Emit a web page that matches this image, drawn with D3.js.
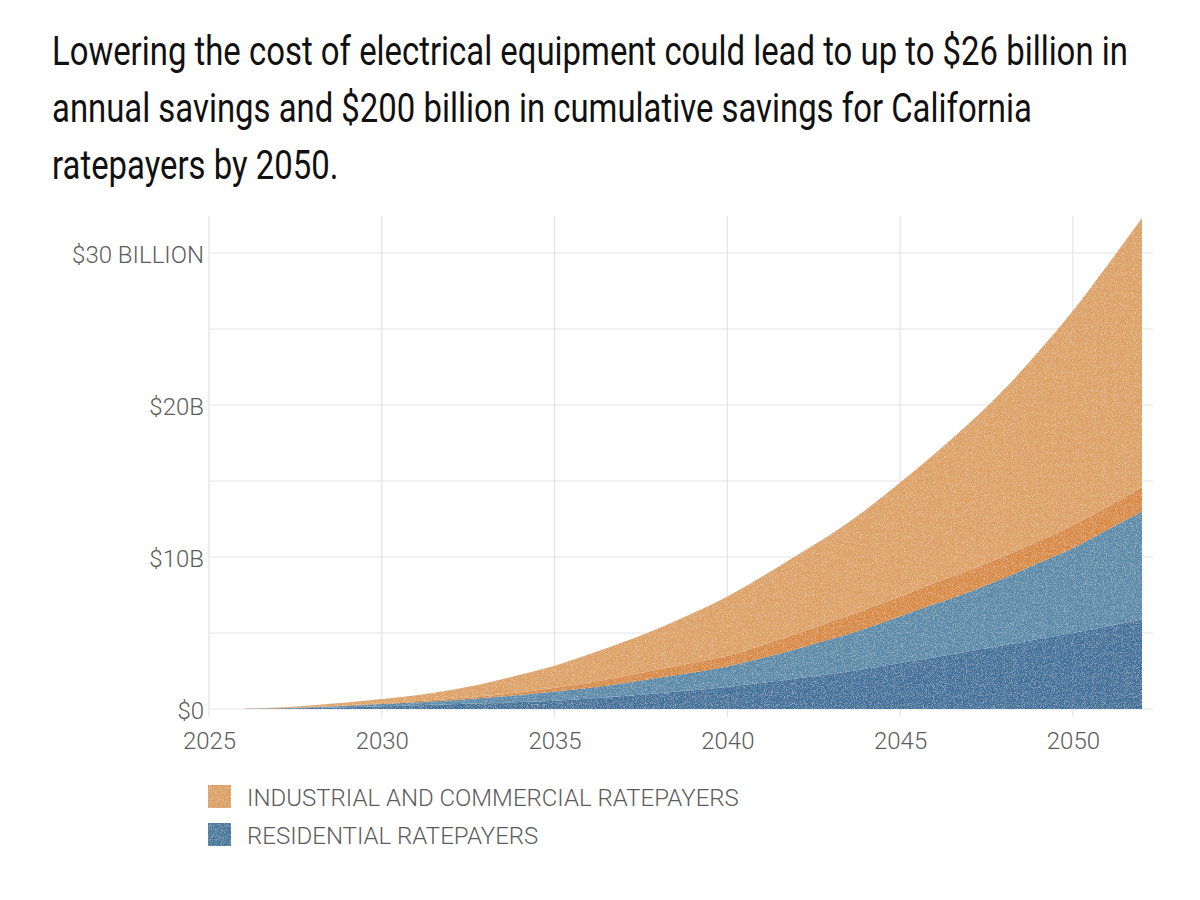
<!DOCTYPE html>
<html>
<head>
<meta charset="utf-8">
<script src="https://cdn.jsdelivr.net/npm/d3@7"></script>
<style>
  body { margin: 0; background: #fff; }
  svg { display: block; }
</style>
</head>
<body>
<div id="chart"></div>
<script>

// years on the x axis
var years = [2026, 2027, 2028, 2029, 2030, 2031, 2032, 2033, 2034, 2035, 2036, 2037, 2038, 2039,
             2040, 2041, 2042, 2043, 2044, 2045, 2046, 2047, 2048, 2049, 2050, 2051, 2052];

// annual savings, $ billion, one array per stacked layer (bottom to top)
var residentialLow  = [0, 0.03, 0.07, 0.12, 0.18, 0.24, 0.31, 0.38, 0.46, 0.55, 0.69, 0.85, 1.04, 1.24,
                       1.45, 1.72, 2.0, 2.3, 2.65, 3.05, 3.4, 3.8, 4.2, 4.6, 5.0, 5.45, 5.9];
var residentialHigh = [0, 0.02, 0.05, 0.10, 0.15, 0.21, 0.27, 0.36, 0.47, 0.60, 0.71, 0.85, 1.01, 1.16,
                       1.35, 1.63, 1.95, 2.3, 2.65, 3.05, 3.5, 3.9, 4.4, 5.0, 5.6, 6.35, 7.1];
var industrialLow   = [0, 0.01, 0.02, 0.03, 0.05, 0.07, 0.10, 0.13, 0.17, 0.25, 0.35, 0.45, 0.55, 0.65,
                       0.70, 0.85, 1.0, 1.15, 1.25, 1.3, 1.4, 1.45, 1.45, 1.45, 1.5, 1.5, 1.6];
var industrialHigh  = [0, 0.04, 0.11, 0.17, 0.27, 0.38, 0.57, 0.83, 1.15, 1.45, 1.85, 2.25, 2.7, 3.25,
                       3.9, 4.5, 5.15, 5.75, 6.55, 7.5, 8.5, 9.65, 10.95, 12.45, 14.1, 15.9, 17.7];

var layerKeys = ["residentialLow", "residentialHigh", "industrialLow", "industrialHigh"];
var layerColors = ["#41719a", "#5a8aa9", "#d88a40", "#dda263"];

var yTicks = [0, 10, 20, 30];
var yGrid = [0, 5, 10, 15, 20, 25, 30];
var xTicks = [2025, 2030, 2035, 2040, 2045, 2050];

var titleLines = [
  "Lowering the cost of electrical equipment could lead to up to $26 billion in",
  "annual savings and $200 billion in cumulative savings for California",
  "ratepayers by 2050."
];

var legendItems = [
  { label: "INDUSTRIAL AND COMMERCIAL RATEPAYERS", color: "#dca064" },
  { label: "RESIDENTIAL RATEPAYERS", color: "#45779b" }
];

var width = 1200, height = 900;
var svg = d3.select("#chart").append("svg")
  .attr("width", width)
  .attr("height", height);

// grain texture like the printed original
var defs = svg.append("defs");
var grain = defs.append("filter").attr("id", "grain")
  .attr("x", 0).attr("y", 0).attr("width", "100%").attr("height", "100%");
grain.append("feTurbulence")
  .attr("type", "fractalNoise").attr("baseFrequency", 1.1)
  .attr("numOctaves", 2).attr("seed", 4).attr("result", "noise");
grain.append("feColorMatrix").attr("in", "noise").attr("type", "matrix")
  .attr("values", "0 0 0 0 1  0 0 0 0 1  0 0 0 0 1  0.9 0 0 0 -0.42")
  .attr("result", "speck");
grain.append("feComposite").attr("in", "speck").attr("in2", "SourceGraphic")
  .attr("operator", "in").attr("result", "clipped");
var merge = grain.append("feMerge");
merge.append("feMergeNode").attr("in", "SourceGraphic");
merge.append("feMergeNode").attr("in", "clipped");

// title: condensed look, squeeze Roboto so line 1 spans the same width as the original
var title = svg.append("g");
var titleText = title.selectAll("text")
  .data(titleLines)
  .join("text")
  .attr("x", 0)
  .attr("y", 0)
  .style("font-family", "Roboto, sans-serif")
  .style("font-size", "40px")
  .style("fill", "#111")
  .text(function(d) { return d; });

var squeeze = 1076 / titleText.node().getComputedTextLength();
titleText.attr("transform", function(d, i) {
  return "translate(52," + (65 + i * 57) + ") scale(" + squeeze + ",1)";
});

var x = d3.scaleLinear().domain([2025, 2052]).range([209, 1142]);
var y = d3.scaleLinear().domain([0, 30]).range([709, 253]);

var axisFont = "Roboto, 'Open Sans', sans-serif";
var grid = svg.append("g");

grid.selectAll("line.h")
  .data(yGrid)
  .join("line")
  .attr("class", "h")
  .attr("x1", x(2025)).attr("x2", 1153)
  .attr("y1", function(d) { return y(d); })
  .attr("y2", function(d) { return y(d); })
  .style("stroke", "#e3e3e6").style("stroke-width", 1.2);

grid.selectAll("line.v")
  .data(xTicks)
  .join("line")
  .attr("class", "v")
  .attr("y1", 216).attr("y2", 717)
  .attr("x1", function(d) { return x(d); })
  .attr("x2", function(d) { return x(d); })
  .style("stroke", "#e3e3e6").style("stroke-width", 1.2);

// stacked areas
var table = years.map(function(yr, i) {
  return {
    year: yr,
    residentialLow: residentialLow[i],
    residentialHigh: residentialHigh[i],
    industrialLow: industrialLow[i],
    industrialHigh: industrialHigh[i]
  };
});

var series = d3.stack().keys(layerKeys)(table);

var area = d3.area()
  .x(function(d) { return x(d.data.year); })
  .y0(function(d) { return y(d[0]); })
  .y1(function(d) { return y(d[1]); })
  .curve(d3.curveMonotoneX);

svg.append("g").selectAll("path")
  .data(series)
  .join("path")
  .attr("d", area)
  .attr("filter", "url(#grain)")
  .style("fill", function(d, i) { return layerColors[i]; });

// axes labels
var yAxis = d3.axisLeft(y)
  .tickValues(yTicks)
  .tickSize(0)
  .tickPadding(6)
  .tickFormat(function(d) {
    if (d === 0) return "$0";
    if (d === 30) return "$30 BILLION";
    return "$" + d + "B";
  });

var gy = svg.append("g").attr("transform", "translate(204,2)").call(yAxis);
gy.select(".domain").remove();
gy.selectAll("text")
  .attr("x", 0)
  .style("font-family", axisFont)
  .style("font-size", "24px")
  .style("font-weight", 300)
  .style("fill", "#5c5c5c");

var xAxis = d3.axisBottom(x)
  .tickValues(xTicks)
  .tickSize(0)
  .tickFormat(d3.format("d"));

var gx = svg.append("g").attr("transform", "translate(0,724)").call(xAxis);
gx.select(".domain").remove();
gx.selectAll("text")
  .attr("y", 8)
  .style("font-family", axisFont)
  .style("font-size", "24px")
  .style("font-weight", 300)
  .style("fill", "#5c5c5c");

// legend
var legend = svg.append("g").attr("transform", "translate(208,785)");
var item = legend.selectAll("g")
  .data(legendItems)
  .join("g")
  .attr("transform", function(d, i) { return "translate(0," + (i * 38) + ")"; });

item.append("rect")
  .attr("width", 23).attr("height", 23)
  .attr("filter", "url(#grain)")
  .style("fill", function(d) { return d.color; });

item.append("text")
  .attr("x", 39).attr("y", 21)
  .style("font-family", axisFont)
  .style("font-size", "24px")
  .style("font-weight", 300)
  .style("fill", "#5c5c5c")
  .text(function(d) { return d.label; });

</script>
</body>
</html>
